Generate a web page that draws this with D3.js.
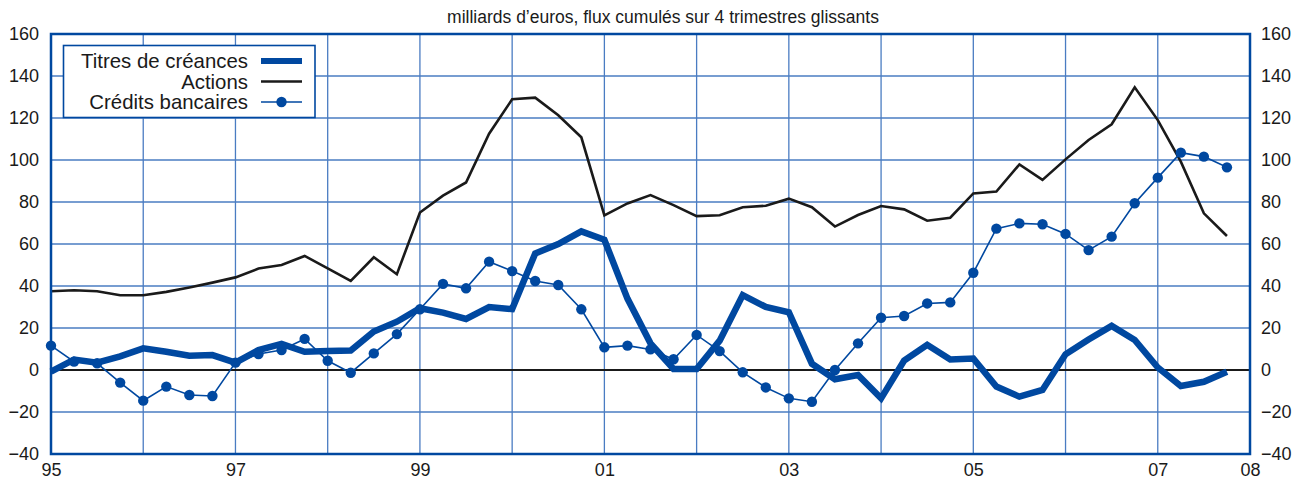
<!DOCTYPE html>
<html>
<head>
<meta charset="utf-8">
<script src="https://cdn.jsdelivr.net/npm/d3@7"></script>
<style>
  body { margin: 0; background: #fff; }
  svg text { font-family: "Liberation Sans", Arial, sans-serif; fill: #1a1a1a; }
</style>
</head>
<body>
<svg id="chart" width="1306" height="483"></svg>
<script>
// quarterly data, 1995 Q1 -> 2007 Q4
const startYear = 1995;
const yearLabels = ["95","96","97","98","99","00","01","02","03","04","05","06","07","08"];
const labelledYears = ["95","97","99","01","03","05","07","08"];
const yTicks = [-40,-20,0,20,40,60,80,100,120,140,160];

const titres = [-0.8,5,3.5,6.5,10.3,8.7,6.8,7.1,3.5,9.5,12.4,8.7,9,9.3,18.3,23,29.4,27.3,24.3,30,
  29,55.5,60,66,62,34,12.7,0.5,0.5,14,35.7,30,27.5,3,-4.4,-2.4,-13.5,4.5,12,5,
  5.5,-7.9,-12.7,-9.5,7.5,14.5,21,14.3,1.2,-7.6,-5.6,-0.8];
const actions = [37.5,38,37.5,35.6,35.6,37.2,39.3,41.6,44.1,48.3,50,54.3,48.4,42.4,53.7,45.6,75,83,89.3,112.5,
  128.9,129.7,121.3,110.8,73.6,79.3,83.3,78.5,73.3,73.7,77.5,78.2,81.6,77.5,68.3,73.8,78.1,76.5,71.1,72.5,
  84.1,85,97.9,90.5,100.3,109.5,117,134.6,119,99.2,74.6,63.8];
const credits = [11.6,4,3.2,-6,-14.6,-7.9,-11.9,-12.4,3.5,7.6,9.5,14.8,4.4,-1.3,7.9,17.1,28.9,41,38.9,51.6,
  47.1,42.4,40.5,28.9,10.8,11.6,9.8,5.1,16.7,9,-1.1,-8.3,-13.5,-15.1,0,12.7,24.9,25.7,31.7,32.2,
  46.3,67.3,69.8,69.4,64.8,57.1,63.5,79.4,91.6,103.5,101.6,96.5];

const blue = "#0048a0";
const gridBlue = "#4a7cc2";

const svg = d3.select("#chart");
const m = {left: 51, right: 1250, top: 34, bottom: 454};

const x = d3.scaleLinear().domain([startYear, startYear + 13]).range([m.left, m.right]);
const y = d3.scaleLinear().domain([-40, 160]).range([m.bottom, m.top]);
const xq = (d, i) => x(startYear + i / 4);

// title
svg.append("text")
  .attr("x", 663).attr("y", 23)
  .attr("text-anchor", "middle")
  .style("font-size", "17.5px")
  .text("milliards d’euros, flux cumulés sur 4 trimestres glissants");

// grid
const grid = svg.append("g");
grid.selectAll(".hg").data(yTicks.slice(1, -1)).enter().append("line")
  .attr("x1", m.left).attr("x2", m.right)
  .attr("y1", d => y(d)).attr("y2", d => y(d))
  .attr("stroke", gridBlue).attr("stroke-width", 1.3);
grid.selectAll(".vg").data(yearLabels.slice(1, -1)).enter().append("line")
  .attr("x1", (d, i) => x(startYear + i + 1)).attr("x2", (d, i) => x(startYear + i + 1))
  .attr("y1", m.top).attr("y2", m.bottom)
  .attr("stroke", gridBlue).attr("stroke-width", 1.3);

// zero line
svg.append("line")
  .attr("x1", m.left).attr("x2", m.right)
  .attr("y1", y(0)).attr("y2", y(0))
  .attr("stroke", "#1a1a1a").attr("stroke-width", 2);

// axes (labels only)
const yLeft = d3.axisLeft(y).tickValues(yTicks).tickSize(0).tickPadding(12)
  .tickFormat(d => d < 0 ? "\u2212" + Math.abs(d) : d);
const yRight = d3.axisRight(y).tickValues(yTicks).tickSize(0).tickPadding(11)
  .tickFormat(d => d < 0 ? "\u2212" + Math.abs(d) : d);
const xAxis = d3.axisBottom(x)
  .tickValues(labelledYears.map(l => startYear + yearLabels.indexOf(l)))
  .tickSize(0).tickPadding(9)
  .tickFormat(d => yearLabels[d - startYear]);

[svg.append("g").attr("transform", `translate(${m.left},0)`).call(yLeft),
 svg.append("g").attr("transform", `translate(${m.right},0)`).call(yRight),
 svg.append("g").attr("transform", `translate(0,${m.bottom})`).call(xAxis)]
  .forEach(g => {
    g.select(".domain").remove();
    g.selectAll("text").style("font-size", "18px").attr("fill", "#1a1a1a")
      .style("font-family", "'Liberation Sans', Arial, sans-serif");
  });

// series
const line = d3.line().x(xq).y(d => y(d));

svg.append("path").datum(actions).attr("d", line)
  .attr("fill", "none").attr("stroke", "#1a1a1a").attr("stroke-width", 2.6)
  .attr("stroke-linejoin", "miter");

svg.append("path").datum(credits).attr("d", line)
  .attr("fill", "none").attr("stroke", blue).attr("stroke-width", 1.6);
svg.append("g").selectAll("circle").data(credits).enter().append("circle")
  .attr("cx", xq).attr("cy", d => y(d)).attr("r", 5.2).attr("fill", blue);

svg.append("path").datum(titres).attr("d", line)
  .attr("fill", "none").attr("stroke", blue).attr("stroke-width", 6.5)
  .attr("stroke-linejoin", "miter");

// frame
svg.append("rect")
  .attr("x", m.left).attr("y", m.top)
  .attr("width", m.right - m.left).attr("height", m.bottom - m.top)
  .attr("fill", "none").attr("stroke", blue).attr("stroke-width", 2.5);

// legend
const legendItems = ["Titres de créances", "Actions", "Crédits bancaires"];
const leg = svg.append("g");
leg.append("rect").attr("x", 63.5).attr("y", 45.5).attr("width", 251.5).attr("height", 72)
  .attr("fill", "#fff").attr("stroke", blue).attr("stroke-width", 1.6);
const rows = leg.selectAll("g").data(legendItems).enter().append("g")
  .attr("transform", (d, i) => `translate(0,${61 + i * 20.5})`);
rows.append("text").attr("x", 248).attr("y", 7).attr("text-anchor", "end")
  .style("font-size", "20.4px").text(d => d);
rows.append("line").attr("x1", 261).attr("x2", 302).attr("y1", 0).attr("y2", 0)
  .attr("stroke", (d, i) => i === 1 ? "#1a1a1a" : blue)
  .attr("stroke-width", (d, i) => [6, 2.6, 1.6][i]);
rows.filter((d, i) => i === 2).append("circle")
  .attr("cx", 281.5).attr("cy", 0).attr("r", 5.2).attr("fill", blue);
</script>
</body>
</html>
